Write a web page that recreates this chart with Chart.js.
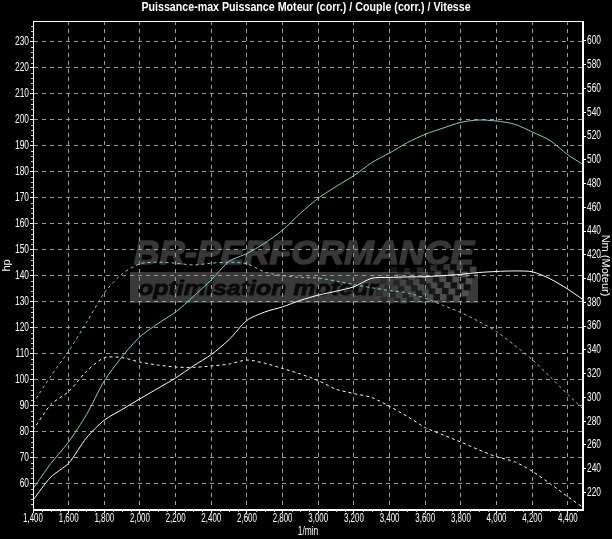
<!DOCTYPE html>
<html>
<head>
<meta charset="utf-8">
<script src="https://cdn.jsdelivr.net/npm/chart.js@4.4.1/dist/chart.umd.min.js"></script>
<style>
  html, body { margin: 0; padding: 0; background: #000; }
</style>
</head>
<body>
<canvas id="dyno" width="612" height="539"></canvas>
<script>
// engine speed (1/min)
const rpm = [1400, 1500, 1600, 1700, 1800, 1900, 2000, 2100, 2200, 2300, 2400, 2500, 2600, 2700, 2800, 2900,
  3000, 3100, 3200, 3300, 3400, 3500, 3600, 3700, 3800, 3900, 4000, 4100, 4200, 4300, 4400, 4480];

// power (hp) - tuned (cyan) and stock (white)
const powerTuned = [58, 67.7, 76, 86.5, 99.5, 108.8, 116.5, 121.5, 126, 132, 138.4, 145.5, 148.5, 152.5, 157.5, 164,
  169.8, 174.3, 178.5, 183.5, 187.2, 191.2, 194.4, 196.8, 199, 199.9, 199.5, 198.3, 195.3, 192, 186.5, 183];
const powerStock = [53.6, 62.5, 67.8, 77.6, 84.4, 88.5, 92.6, 96.6, 100.6, 105.3, 109.6, 115.4, 122.8, 126, 128, 130.5,
  132.5, 134, 135.7, 139, 139.3, 139.5, 139.6, 140, 140.5, 141.2, 141.6, 141.8, 141.5, 138.8, 134.8, 131];

// torque (Nm) - tuned (cyan dashed) and stock (white dashed)
const torqueTuned = [295, 318, 339, 363, 388, 404, 412.5, 413.8, 413, 411.5, 413, 413.8, 412.5, 405.5, 402.5, 401,
  400.5, 398, 395, 392.3, 390, 388, 383.5, 377.5, 371.5, 364, 355.5, 344, 332, 317.5, 302.5, 291];
const torqueStock = [272.6, 294, 305, 322, 333.5, 333.5, 329.8, 327.3, 325.6, 325.3, 326.5, 328.1, 331.5, 328.8, 324.4, 319.7,
  314.2, 306.9, 303.3, 300, 292.5, 284, 274.7, 268.5, 262.5, 256, 250.1, 246, 238, 227.5, 216.5, 208];

const rpmTicks = [1400, 1600, 1800, 2000, 2200, 2400, 2600, 2800, 3000, 3200, 3400, 3600, 3800, 4000, 4200, 4400];
const hpTicks = [60, 70, 80, 90, 100, 110, 120, 130, 140, 150, 160, 170, 180, 190, 200, 210, 220, 230];
const nmTicks = [220, 240, 260, 280, 300, 320, 340, 360, 380, 400, 420, 440, 460, 480, 500, 520, 540, 560, 580, 600];

const chartTitle = 'Puissance-max Puissance Moteur (corr.) / Couple (corr.) / Vitesse';

const FONT = '"Liberation Sans", Arial, sans-serif';
const CYAN = '#86cccc';
const GRID = '#9a9a9a';

function points(values) {
  return rpm.map((r, i) => ({ x: r, y: values[i] }));
}

// narrow text: the original uses a condensed face, so squeeze horizontally
function narrowText(ctx, text, x, y, sx, align) {
  ctx.save();
  ctx.translate(x, y);
  ctx.scale(sx, 1);
  ctx.textAlign = align;
  ctx.fillText(text, 0, 0);
  ctx.restore();
}

const backdrop = {
  id: 'backdrop',
  beforeDraw(chart) {
    const ctx = chart.ctx;
    ctx.save();
    ctx.fillStyle = '#000';
    ctx.fillRect(0, 0, chart.width, chart.height);

    // watermark
    ctx.fillStyle = '#373737';
    ctx.strokeStyle = '#373737';
    ctx.lineWidth = 1.5;
    ctx.lineJoin = 'round';
    ctx.font = 'italic bold 33px ' + FONT;
    let w = ctx.measureText('BR-PERFORMANCE').width;
    ctx.save();
    ctx.translate(134, 264);
    ctx.scale(340 / w, 1);
    ctx.fillText('BR-PERFORMANCE', 0, 0);
    ctx.strokeText('BR-PERFORMANCE', 0, 0);
    ctx.restore();

    ctx.fillStyle = '#393939';
    ctx.fillRect(130, 272, 348, 31);

    // checkered flag
    for (let i = 0; i < 14; i++) {
      for (let j = 0; j < 6; j++) {
        const cx = 384 + i * 6.6 - j * 2;
        const cy = 266 + j * 6 + Math.sin(i * 0.5) * 2;
        ctx.fillStyle = (i + j) % 2 ? 'rgba(90,90,90,' + (0.2 + i * 0.04) + ')' : 'rgba(12,12,12,' + (0.3 + i * 0.05) + ')';
        ctx.fillRect(cx, cy, 6.6, 6);
      }
    }

    ctx.fillStyle = '#0a0a0a';
    ctx.strokeStyle = '#0a0a0a';
    ctx.lineWidth = 0.8;
    ctx.font = 'italic bold 20px ' + FONT;
    w = ctx.measureText('optimisation moteur').width;
    ctx.save();
    ctx.translate(138, 295);
    ctx.scale(240 / w, 1);
    ctx.fillText('optimisation moteur', 0, 0);
    ctx.strokeText('optimisation moteur', 0, 0);
    ctx.restore();

    // title
    ctx.fillStyle = '#fff';
    ctx.font = 'bold 13px ' + FONT;
    ctx.textBaseline = 'middle';
    narrowText(ctx, chartTitle, 306, 7, 0.82, 'center');
    ctx.restore();
  },
  afterDraw(chart) {
    const a = chart.chartArea;
    const ctx = chart.ctx;
    const { x, hp, nm } = chart.scales;
    ctx.save();
    ctx.strokeStyle = '#fff';
    ctx.lineWidth = 1;
    ctx.strokeRect(Math.round(a.left) + 0.5, Math.round(a.top) + 0.5,
      Math.round(a.right - a.left) - 1, Math.round(a.bottom - a.top) - 1);

    // minor ticks
    ctx.strokeStyle = '#cfcfcf';
    ctx.beginPath();
    for (let v = 52; v < 238; v += 2) {
      if (v % 10 === 0) continue;
      const py = Math.round(hp.getPixelForValue(v)) + 0.5;
      ctx.moveTo(a.left - 2, py);
      ctx.lineTo(a.left, py);
    }
    for (let v = 1450; v < 4485; v += 50) {
      if (v % 200 === 0) continue;
      const px = Math.round(x.getPixelForValue(v)) + 0.5;
      ctx.moveTo(px, a.bottom);
      ctx.lineTo(px, a.bottom + 2);
    }
    ctx.stroke();

    // tick labels
    ctx.fillStyle = '#fff';
    ctx.font = '12px ' + FONT;
    ctx.textBaseline = 'middle';
    hpTicks.forEach(v => narrowText(ctx, String(v), a.left - 4, hp.getPixelForValue(v), 0.7, 'right'));
    nmTicks.forEach(v => narrowText(ctx, String(v), a.right + 4, nm.getPixelForValue(v), 0.7, 'left'));
    rpmTicks.forEach(v => narrowText(ctx, v.toLocaleString('en-US'), x.getPixelForValue(v), a.bottom + 9, 0.66, 'center'));
    ctx.font = '12px ' + FONT;
    narrowText(ctx, '1/min', (a.left + a.right) / 2, 532, 0.7, 'center');
    ctx.restore();
  }
};

new Chart(document.getElementById('dyno'), {
  type: 'line',
  data: {
    datasets: [
      { label: 'Puissance', data: points(powerTuned), yAxisID: 'hp', borderColor: CYAN },
      { label: 'Puissance série', data: points(powerStock), yAxisID: 'hp', borderColor: '#fff' },
      { label: 'Couple', data: points(torqueTuned), yAxisID: 'nm', borderColor: CYAN, borderDash: [3, 3] },
      { label: 'Couple série', data: points(torqueStock), yAxisID: 'nm', borderColor: '#fff', borderDash: [3, 3] }
    ]
  },
  options: {
    responsive: false,
    animation: false,
    layout: { padding: { top: 21 } },
    elements: {
      line: { borderWidth: 1, tension: 0.25 },
      point: { radius: 0 }
    },
    plugins: {
      legend: { display: false },
      tooltip: { enabled: false }
    },
    scales: {
      x: {
        type: 'linear',
        min: 1400,
        max: 4485,
        afterBuildTicks: s => { s.ticks = rpmTicks.map(v => ({ value: v })); },
        afterFit: s => { s.height = 29; },
        grid: { color: GRID, drawTicks: true, tickLength: 3, tickColor: '#fff' },
        border: { color: '#fff', dash: [4, 4] },
        ticks: { display: false }
      },
      hp: {
        position: 'left',
        min: 49.8,
        max: 238,
        afterBuildTicks: s => { s.ticks = hpTicks.map(v => ({ value: v })); },
        afterFit: s => { s.width = 33; },
        grid: { color: GRID, drawTicks: true, tickLength: 3, tickColor: '#fff' },
        border: { color: '#fff', dash: [4, 4] },
        ticks: { display: false },
        title: { display: true, text: 'hp', color: '#fff', padding: 0, font: { family: FONT, size: 11 } }
      },
      nm: {
        position: 'right',
        min: 205.3,
        max: 616.8,
        afterBuildTicks: s => { s.ticks = nmTicks.map(v => ({ value: v })); },
        afterFit: s => { s.width = 29; },
        grid: { drawOnChartArea: false, drawTicks: true, tickLength: 3, tickColor: '#fff' },
        border: { color: '#fff' },
        ticks: { display: false },
        title: { display: true, text: 'Nm (Moteur)', color: '#fff', padding: 0, font: { family: FONT, size: 11 } }
      }
    }
  },
  plugins: [backdrop]
});
</script>
</body>
</html>
